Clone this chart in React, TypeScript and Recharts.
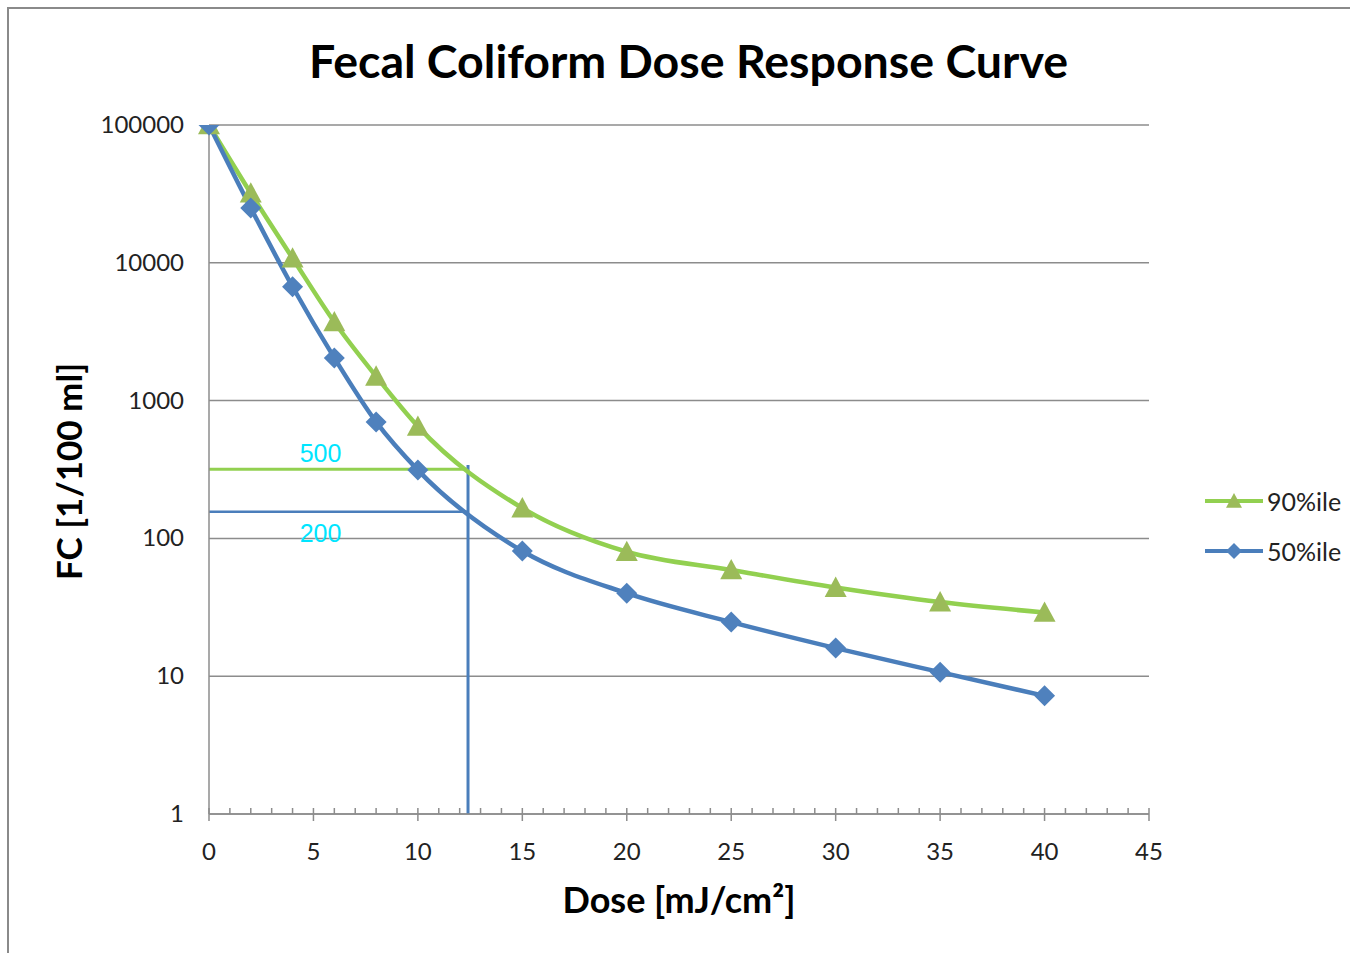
import { Label, Legend, Line, LineChart, ReferenceLine, XAxis, YAxis, CartesianGrid } from 'recharts';

const doses = [0, 2, 4, 6, 8, 10, 15, 20, 25, 30, 35, 40];
const fc90 = [100000, 32000, 10800, 3720, 1500, 650, 166, 80, 59, 44, 34.5, 29];
const fc50 = [100000, 25000, 6700, 2040, 700, 313, 81, 40, 24.7, 16, 10.7, 7.2];

const xTicks = Array.from({ length: 46 }, (_, i) => i);
const yTicks = [1, 10, 100, 1000, 10000, 100000];

// guide lines
const target90 = 317;
const target50 = 156;
const targetDose = 12.4;
const guideTop = 341;

const data = doses.map((d, i) => ({ dose: d, p90: fc90[i], p50: fc50[i] }));

const FONT = 'Lato, "Open Sans", sans-serif';
const GREEN_LINE = '#92D050';
const GREEN_MARK = '#9BBB59';
const BLUE = '#4A7EBB';
const BLUE_MARK = '#4F81BD';
const GRID = '#8C8C8C';

const Triangle = ({ cx, cy, fill, s = 11 }: any) => (
  <path d={`M${cx},${cy - s} L${cx + s},${cy + s * 0.85} L${cx - s},${cy + s * 0.85} Z`} fill={fill} />
);

const Diamond = ({ cx, cy, fill, s = 10.5 }: any) => (
  <path d={`M${cx},${cy - s} L${cx + s},${cy} L${cx},${cy + s} L${cx - s},${cy} Z`} fill={fill} />
);

const XTick = ({ x, y, payload }: any) => {
  const major = payload.value % 5 === 0;
  return (
    <g>
      <line x1={x} x2={x} y1={y - 6} y2={major ? y + 7 : y} stroke={GRID} strokeWidth={1.5} />
      {major && (
        <text x={x} y={y + 46} textAnchor="middle" fontSize={24} fontFamily={FONT} fill="#222">
          {payload.value}
        </text>
      )}
    </g>
  );
};

const YTick = ({ x, y, payload }: any) => (
  <text x={x} y={y + 8} textAnchor="end" fontSize={24} fontFamily={FONT} fill="#222">
    {payload.value}
  </text>
);

const renderLegend = ({ payload }: any) => {
  const items = [...(payload || [])].sort((a: any, b: any) => (a.dataKey === 'p90' ? -1 : b.dataKey === 'p90' ? 1 : 0));
  return (
    <div>
      {items.map((entry: any) => {
        const isGreen = entry.dataKey === 'p90';
        return (
          <div key={entry.value} style={{ display: 'flex', alignItems: 'center', height: 50 }}>
            <svg width={60} height={24}>
              <line x1={0} x2={58} y1={12} y2={12} stroke={isGreen ? GREEN_LINE : BLUE} strokeWidth={4} />
              {isGreen ? (
                <Triangle cx={29} cy={12} fill={GREEN_MARK} s={8} />
              ) : (
                <Diamond cx={29} cy={12} fill={BLUE_MARK} s={8} />
              )}
            </svg>
            <span style={{ fontFamily: FONT, fontSize: 25, color: '#222', marginLeft: 2 }}>{entry.value}</span>
          </div>
        );
      })}
    </div>
  );
};

export default function App() {
  return (
    <div style={{ position: 'absolute', left: 0, top: 0, width: 1350, height: 953, background: '#fff', overflow: 'hidden' }}>
      <div
        style={{
          position: 'absolute',
          left: 7,
          top: 7,
          width: 1400,
          height: 1000,
          borderLeft: '2px solid #8a8a8a',
          borderTop: '2px solid #8a8a8a',
        }}
      />
      <div
        style={{
          position: 'absolute',
          left: 0,
          width: 1377,
          top: 32,
          textAlign: 'center',
          fontFamily: FONT,
          fontWeight: 700,
          fontSize: 46.5,
          color: '#000',
        }}
      >
        Fecal Coliform Dose Response Curve
      </div>
      <div style={{ position: 'absolute', left: 0, top: 0 }}>
        <LineChart width={1350} height={953} data={data} margin={{ top: 125, right: 201, left: 59, bottom: 39 }}>
          <CartesianGrid horizontal vertical={false} stroke={GRID} strokeWidth={1.5} />
          <XAxis
            dataKey="dose"
            type="number"
            domain={[0, 45]}
            ticks={xTicks}
            interval={0}
            tickSize={0}
            tickMargin={0}
            tick={<XTick />}
            stroke={GRID}
            strokeWidth={1.5}
            height={100}
          >
            <Label
              content={({ viewBox }: any) => (
                <text
                  x={viewBox.x + viewBox.width / 2}
                  y={viewBox.y + 99}
                  textAnchor="middle"
                  fontFamily={FONT}
                  fontWeight={700}
                  fontSize={36}
                  fill="#000"
                >
                  Dose [mJ/cm²]
                </text>
              )}
            />
          </XAxis>
          <YAxis
            scale="log"
            domain={[1, 100000]}
            ticks={yTicks}
            interval={0}
            allowDataOverflow
            tickLine={false}
            tickSize={0}
            tickMargin={25}
            tick={<YTick />}
            stroke={GRID}
            strokeWidth={1.5}
            width={150}
          >
            <Label
              content={({ viewBox }: any) => {
                const cx = viewBox.x + 23;
                const cy = viewBox.y + viewBox.height / 2 + 2;
                return (
                  <text
                    x={cx}
                    y={cy}
                    transform={`rotate(-90 ${cx} ${cy})`}
                    textAnchor="middle"
                    fontFamily={FONT}
                    fontWeight={700}
                    fontSize={35}
                    fill="#000"
                  >
                    FC [1/100 ml]
                  </text>
                );
              }}
            />
          </YAxis>
          <ReferenceLine
            segment={[{ x: 0, y: target90 }, { x: targetDose, y: target90 }]}
            stroke={GREEN_LINE}
            strokeWidth={3}
            ifOverflow="visible"
            label={{ value: '500', position: 'top', dx: -18, dy: -2, fill: '#00E5FF', fontSize: 25, fontFamily: '"Liberation Sans", Arial, sans-serif' }}
          />
          <ReferenceLine
            segment={[{ x: 0, y: target50 }, { x: targetDose, y: target50 }]}
            stroke={BLUE}
            strokeWidth={2.5}
            ifOverflow="visible"
            label={{ value: '200', position: 'bottom', dx: -18, dy: 7, fill: '#00E5FF', fontSize: 25, fontFamily: '"Liberation Sans", Arial, sans-serif' }}
          />
          <ReferenceLine
            segment={[{ x: targetDose, y: guideTop }, { x: targetDose, y: 1 }]}
            stroke={BLUE}
            strokeWidth={3}
            ifOverflow="visible"
          />
          <Line
            dataKey="p90"
            name="90%ile"
            type="monotone"
            stroke={GREEN_LINE}
            strokeWidth={4.5}
            isAnimationActive={false}
            dot={(p: any) => <Triangle key={`t${p.index}`} cx={p.cx} cy={p.cy} fill={GREEN_MARK} />}
            activeDot={false}
          />
          <Line
            dataKey="p50"
            name="50%ile"
            type="monotone"
            stroke={BLUE}
            strokeWidth={4.5}
            isAnimationActive={false}
            dot={(p: any) => <Diamond key={`d${p.index}`} cx={p.cx} cy={p.cy} fill={BLUE_MARK} />}
            activeDot={false}
          />
          <Legend
            layout="vertical"
            verticalAlign="middle"
            align="center"
            content={renderLegend}
            wrapperStyle={{ position: 'absolute', left: 1205, top: 476, width: 150 }}
          />
        </LineChart>
      </div>
    </div>
  );
}
